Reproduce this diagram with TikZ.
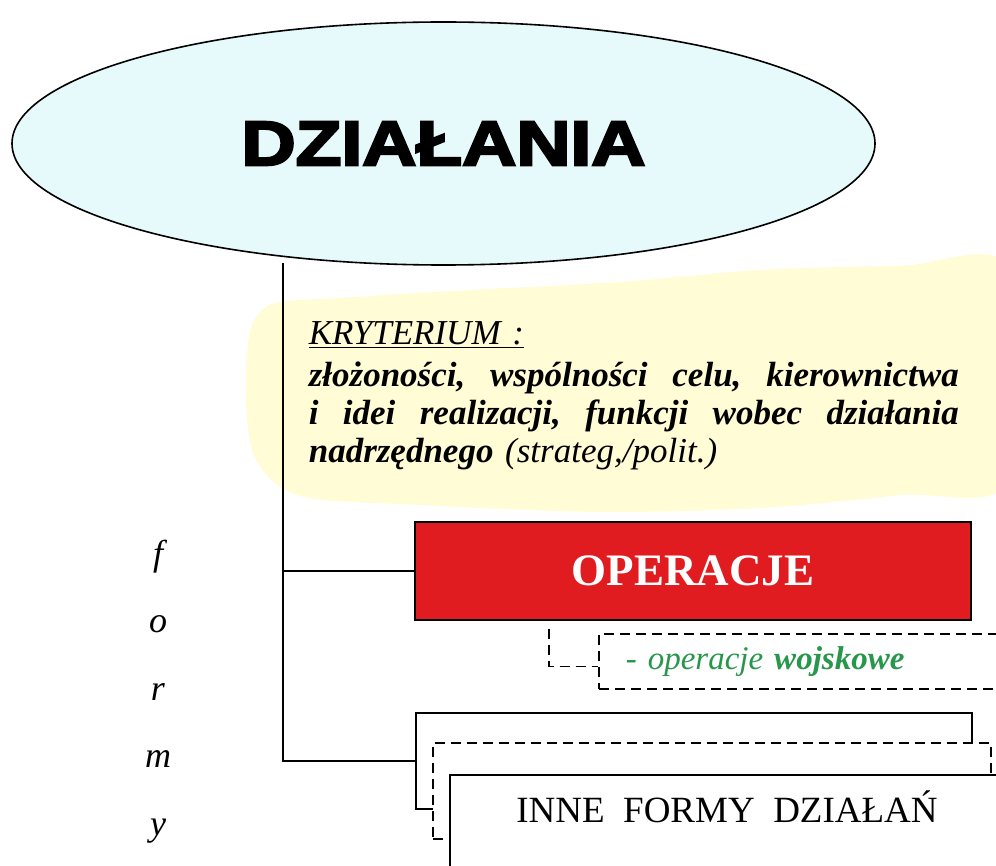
\documentclass[tikz,border=0pt]{standalone}
\usepackage{fontspec}
\setmainfont{Liberation Serif}
\newfontfamily\headfont[BoldFeatures={FakeBold=3.5}]{Liberation Sans}
\usetikzlibrary{positioning}
\usetikzlibrary{shapes.geometric}
\definecolor{skyfill}{RGB}{230,249,251}
\definecolor{blobfill}{RGB}{255,252,214}
\definecolor{opred}{RGB}{225,28,32}
\definecolor{wojgreen}{RGB}{40,150,75}

\begin{document}
\begin{tikzpicture}
		[x=1pt, y=-1pt, line width=1.6pt,
		card/.style={rectangle, draw=black, fill=white, minimum width=558pt, minimum height=96pt, anchor=north west},
		dashline/.style={dash pattern=on 10pt off 6pt},
		letter/.style={font=\fontsize{36}{40}\selectfont\itshape, inner sep=0pt}]
		\useasboundingbox (0,0) rectangle (996,866);
		\fill[blobfill] plot[smooth cycle] coordinates {(246,400) (250,332) (272,304) (340,298) (470,290) (620,282) (760,270) (900,266) (1010,268) (1010,480) (900,495) (760,508) (600,512) (420,505) (300,496) (256,460)};

		\node[ellipse, draw=black, fill=skyfill, minimum width=863pt, minimum height=243pt, inner sep=0pt, font=\headfont\bfseries\fontsize{63}{70}\selectfont] (dz) at (443.5,143.5) {\scalebox{1.19}[1]{DZIAŁANIA}};
		\node[anchor=base west, text width=650pt, align=left, inner sep=0pt, font=\fontsize{35}{38}\selectfont\itshape] (kryt) at (308,345)
			{\underline{KRYTERIUM :}\\[4pt]
			\makebox[650pt][s]{\bfseries złożoności,\hfill wspólności\hfill celu,\hfill kierownictwa}\\
			\makebox[650pt][s]{\bfseries i\hfill idei\hfill realizacji,\hfill funkcji\hfill wobec\hfill działania}\\
			\textbf{nadrzędnego} (strateg,/polit.)};

		\node[rectangle, draw=black, fill=opred, text=white, minimum width=556pt, minimum height=98pt, font=\fontsize{45}{50}\selectfont\bfseries] (op) at (693,571) {OPERACJE};
		\node[draw=black, dashline, anchor=north west, minimum height=55pt, text width=390pt, inner xsep=27pt, align=left, text=wojgreen, font=\fontsize{33}{36}\selectfont\itshape] (ow) at (598,633) {- operacje \textbf{wojskowe}};

		\node[card, minimum width=556pt] (c1) at (415,712) {};
		\node[card, dashline] (c2) at (432,742) {};
		\node[card, minimum width=600pt] (c3) at (449,774) {};
		\node[anchor=base, font=\fontsize{37}{40}\selectfont] (inne) at ([xshift=278pt,yshift=-48pt]c3.north west) {INNE\ \ FORMY\ \ DZIAŁAŃ};

		\coordinate (trunk) at (283,263);
		\coordinate (opdrop) at ([xshift=135pt,yshift=-8pt]op.south west);
		\draw (trunk) |- (op.west);
		\draw (trunk) |- (c1.west);
		\draw[dashline] (opdrop) |- ([yshift=-5pt]ow.west);

		\node[letter, anchor=base] (f) at (158,565) {f};
		\node[letter, below=67.5pt of f.base, anchor=base] (o) {o};
		\node[letter, below=67.5pt of o.base, anchor=base] (r) {r};
		\node[letter, below=67.5pt of r.base, anchor=base] (m) {m};
		\node[letter, below=67.5pt of m.base, anchor=base] (y) {y};
	\end{tikzpicture}
\end{document}
